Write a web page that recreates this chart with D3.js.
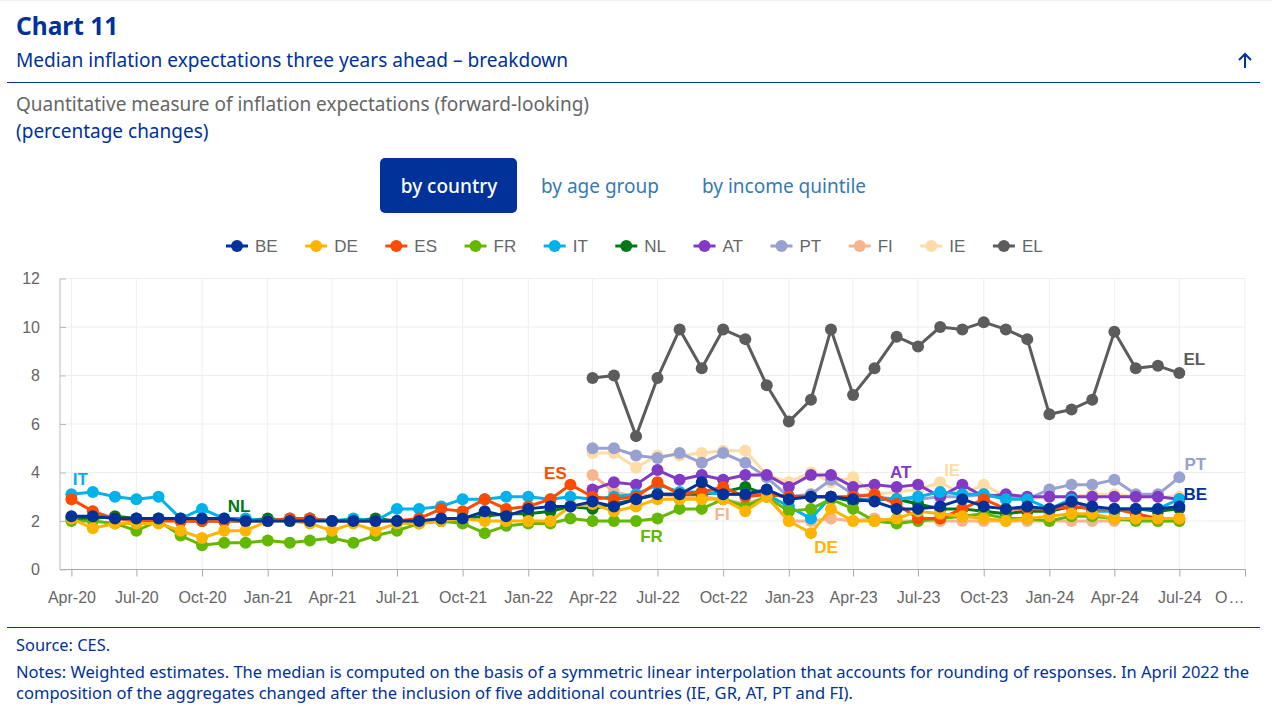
<!DOCTYPE html>
<html>
<head>
<meta charset="utf-8">
<script src="https://cdn.jsdelivr.net/npm/d3@7"></script>
<style>
    html, body { margin: 0; padding: 0; background: #fff; overflow: hidden; }
    .head { font-family: "Noto Sans", sans-serif; }
    .chart text { font-family: "Liberation Sans", Arial, sans-serif; }
</style>
</head>
<body>
<div id="container"></div>
<script>
// monthly survey rounds, Apr-20 to Jul-24
let months = d3.utcMonth.range(new Date(Date.UTC(2020, 3, 1)), new Date(Date.UTC(2024, 7, 1)));

let tickLabels = ["Apr-20", "Jul-20", "Oct-20", "Jan-21", "Apr-21", "Jul-21", "Oct-21", "Jan-22", "Apr-22", "Jul-22",
    "Oct-22", "Jan-23", "Apr-23", "Jul-23", "Oct-23", "Jan-24", "Apr-24", "Jul-24", "O…"];
let yTicks = [0, 2, 4, 6, 8, 10, 12];

let seriesNames = ["BE", "DE", "ES", "FR", "IT", "NL", "AT", "PT", "FI", "IE", "EL"];
let seriesColors = ["#003299", "#ffb400", "#ff4b00", "#65b800", "#00b1ea", "#007816", "#8139c6", "#98a1d0", "#f6b48f", "#fddca5", "#5c5c5c"];

let BE = [2.2, 2.2, 2.1, 2.1, 2.1, 2.1, 2.1, 2.1, 2.0, 2.0, 2.0, 2.0, 2.0, 2.0, 2.0, 2.0, 2.0, 2.1, 2.1, 2.4, 2.2, 2.5, 2.6, 2.6,
    2.8, 2.6, 2.9, 3.1, 3.1, 3.6, 3.1, 3.1, 3.3, 2.9, 3.0, 3.0, 2.9, 2.8, 2.5, 2.5, 2.6, 2.9, 2.6, 2.5, 2.6, 2.5, 2.8, 2.6, 2.5, 2.5, 2.5, 2.6];
let DE = [2.1, 1.7, 1.9, 1.9, 1.9, 1.6, 1.3, 1.6, 1.6, 2.0, 2.0, 1.9, 1.6, 1.9, 1.6, 1.9, 1.9, 2.0, 2.1, 2.0, 2.0, 2.0, 2.0, 2.6,
    2.7, 2.4, 2.6, 2.9, 2.9, 2.9, 2.9, 2.4, 3.0, 2.0, 1.5, 2.5, 2.0, 2.0, 2.1, 2.4, 2.3, 2.2, 2.1, 2.0, 2.1, 2.2, 2.3, 2.3, 2.1, 2.1, 2.1, 2.1];
let ES = [2.9, 2.4, 2.1, 2.0, 2.0, 2.0, 2.0, 2.0, 2.0, 2.0, 2.1, 2.1, 2.0, 2.0, 2.0, 2.0, 2.1, 2.5, 2.4, 2.9, 2.5, 2.6, 2.9, 3.5,
    3.0, 2.9, 3.0, 3.6, 3.1, 3.2, 3.4, 3.0, 3.1, 3.0, 3.0, 3.0, 3.0, 3.1, 2.7, 2.1, 2.1, 2.5, 2.9, 2.5, 2.5, 2.5, 2.6, 2.5, 2.5, 2.3, 2.1, 2.1];
let FR = [2.0, 2.0, 1.9, 1.6, 2.0, 1.4, 1.0, 1.1, 1.1, 1.2, 1.1, 1.2, 1.3, 1.1, 1.4, 1.6, 1.9, 2.0, 1.9, 1.5, 1.8, 1.9, 1.9, 2.1,
    2.0, 2.0, 2.0, 2.1, 2.5, 2.5, 2.9, 2.6, 3.0, 2.4, 2.5, 2.9, 2.5, 2.0, 1.9, 2.0, 2.1, 2.2, 2.3, 2.1, 2.1, 2.0, 2.2, 2.2, 2.1, 2.0, 2.0, 2.0];
let IT = [3.1, 3.2, 3.0, 2.9, 3.0, 2.1, 2.5, 2.1, 2.1, 2.0, 2.1, 2.1, 2.0, 2.1, 2.0, 2.5, 2.5, 2.6, 2.9, 2.9, 3.0, 3.0, 2.9, 3.0,
    2.9, 3.0, 3.1, 3.5, 3.2, 3.2, 3.1, 3.1, 3.1, 2.6, 2.1, 3.0, 2.9, 2.9, 2.9, 3.0, 3.2, 3.1, 3.1, 2.9, 2.9, 2.5, 2.9, 2.4, 2.4, 2.5, 2.5, 2.9];
let NL = [2.1, 2.1, 2.2, 2.1, 2.1, 2.0, 2.0, 2.0, 2.0, 2.1, 2.0, 2.1, 2.0, 2.0, 2.1, 2.0, 2.0, 2.0, 2.1, 2.2, 2.3, 2.3, 2.4, 2.6,
    2.5, 2.7, 2.9, 3.1, 3.1, 3.1, 3.2, 3.4, 3.1, 3.0, 3.0, 3.0, 2.8, 2.9, 2.9, 2.7, 2.5, 2.5, 2.4, 2.3, 2.4, 2.4, 2.6, 2.5, 2.5, 2.5, 2.4, 2.5];
// the five below join the aggregate from Apr-22
let AT = [3.3, 3.6, 3.5, 4.1, 3.7, 3.9, 3.7, 3.9, 3.9, 3.4, 3.9, 3.9, 3.4, 3.5, 3.4, 3.5, 3.0, 3.5, 3.0, 3.1, 3.0, 3.0, 3.0, 3.0, 3.0, 3.0, 3.0, 2.9];
let PT = [5.0, 5.0, 4.7, 4.6, 4.8, 4.4, 4.8, 4.4, 3.8, 3.0, 3.1, 3.7, 3.1, 3.0, 2.9, 2.9, 3.0, 3.0, 3.1, 3.0, 2.9, 3.3, 3.5, 3.5, 3.7, 3.1, 3.1, 3.8];
let FI = [3.9, 3.2, 3.0, 3.1, 3.0, 3.0, 2.9, 2.7, 3.0, 2.0, 2.0, 2.1, 2.0, 2.1, 2.0, 2.0, 2.0, 2.0, 2.0, 2.0, 2.0, 2.0, 2.0, 2.0, 2.0, 2.1, 2.0, 2.0];
let IE = [4.8, 4.8, 4.2, 4.7, 4.7, 4.8, 4.9, 4.9, 3.9, 3.6, 4.0, 3.6, 3.8, 3.1, 3.2, 3.3, 3.6, 3.1, 3.5, 3.0, 2.9, 3.0, 3.0, 3.1, 3.1, 3.0, 3.0, 3.0];
let EL = [7.9, 8.0, 5.5, 7.9, 9.9, 8.3, 9.9, 9.5, 7.6, 6.1, 7.0, 9.9, 7.2, 8.3, 9.6, 9.2, 10.0, 9.9, 10.2, 9.9, 9.5, 6.4, 6.6, 7.0, 9.8, 8.3, 8.4, 8.1];

let seriesValues = [BE, DE, ES, FR, IT, NL, AT, PT, FI, IE, EL];

// which round each in-chart label hangs off, with its pixel nudge
let labelNames = ["IT", "NL", "ES", "FR", "FI", "DE", "AT", "IE", "PT", "BE", "EL"];
let labelRounds = [0, 7, 23, 27, 30, 34, 38, 40, 51, 51, 51];
let labelNudge = [[9, -15], [15, -15], [-15, -12], [-6, 17], [-1, 15], [15, 14], [4, -15], [12, -12], [16, -13], [16, -12], [15, -14]];

let blue = "#003299";
let grey = "#666666";

let svg = d3.select("#container").append("svg")
    .attr("width", 1272)
    .attr("height", 707);

// header ------------------------------------------------------------
let head = svg.append("g").attr("class", "head");

head.append("rect").attr("width", 1272).attr("height", 1).attr("fill", "#f2f2f2");

head.append("text").attr("x", 16).attr("y", 35)
    .attr("font-size", 24.5).attr("font-weight", 700).attr("fill", blue)
    .text("Chart 11");
head.append("text").attr("x", 16).attr("y", 67)
    .attr("font-size", 19.1).attr("fill", blue)
    .text("Median inflation expectations three years ahead – breakdown");
head.append("path")
    .attr("d", "M1245 68V54M1239 60L1245 54L1251 60")
    .attr("fill", "none").attr("stroke", blue).attr("stroke-width", 2);
head.append("line")
    .attr("x1", 7).attr("x2", 1260).attr("y1", 82.5).attr("y2", 82.5)
    .attr("stroke", blue);

head.append("text").attr("x", 16).attr("y", 111)
    .attr("font-size", 19).attr("fill", "#666666")
    .text("Quantitative measure of inflation expectations (forward-looking)");
head.append("text").attr("x", 16).attr("y", 138)
    .attr("font-size", 19).attr("fill", blue)
    .text("(percentage changes)");

head.append("rect")
    .attr("x", 380).attr("y", 158).attr("width", 137).attr("height", 55).attr("rx", 5)
    .attr("fill", blue);
head.append("text").attr("x", 449).attr("y", 193).attr("text-anchor", "middle")
    .attr("font-size", 19).attr("font-weight", 500).attr("fill", "#fff")
    .text("by country");
head.append("text").attr("x", 541).attr("y", 193)
    .attr("font-size", 19).attr("fill", "#337ab7")
    .text("by age group");
head.append("text").attr("x", 702).attr("y", 193)
    .attr("font-size", 19).attr("fill", "#337ab7")
    .text("by income quintile");

// footer
head.append("line")
    .attr("x1", 7).attr("x2", 1260).attr("y1", 627.5).attr("y2", 627.5)
    .attr("stroke", blue);
head.append("text").attr("x", 16).attr("y", 651)
    .attr("font-size", 16.4).attr("fill", blue)
    .text("Source: CES.");
head.append("text").attr("x", 16).attr("y", 678)
    .attr("font-size", 16.55).attr("fill", blue)
    .text("Notes: Weighted estimates. The median is computed on the basis of a symmetric linear interpolation that accounts for rounding of responses. In April 2022 the");
head.append("text").attr("x", 16).attr("y", 699)
    .attr("font-size", 16.55).attr("fill", blue)
    .text("composition of the aggregates changed after the inclusion of five additional countries (IE, GR, AT, PT and FI).");

// chart ------------------------------------------------------------
let chart = svg.append("g").attr("class", "chart");

let tickDates = d3.utcMonth.every(3).range(months[0], new Date(Date.UTC(2024, 10, 1)));

let x = d3.scaleUtc()
    .domain([new Date(Date.UTC(2020, 2, 16)), tickDates[tickDates.length - 1]])
    .range([60, 1245]);
let y = d3.scaleLinear()
    .domain([0, 12])
    .range([569.5, 278.5]);

// gridlines
chart.append("g").selectAll("line").data(yTicks.slice(1)).join("line")
    .attr("x1", 60).attr("x2", 1245.5)
    .attr("y1", d => y(d)).attr("y2", d => y(d))
    .attr("stroke", "#eeeeee");
chart.append("g").selectAll("line").data(tickDates).join("line")
    .attr("x1", d => x(d)).attr("x2", d => x(d))
    .attr("y1", y(12)).attr("y2", y(0))
    .attr("stroke", "#eeeeee");

// axes
let xAxis = chart.append("g")
    .attr("transform", "translate(0," + y(0) + ")")
    .call(d3.axisBottom(x)
        .tickValues(tickDates)
        .tickSize(7)
        .tickPadding(15)
        .tickFormat((d, i) => tickLabels[i]));
xAxis.select(".domain").attr("stroke", "#aaaaaa").attr("d", "M60,0H1245.5");
xAxis.selectAll(".tick line").attr("stroke", "#aaaaaa");
xAxis.selectAll(".tick text").attr("fill", grey).attr("font-size", 16);
// last label is clipped by the plot edge in the original
xAxis.selectAll(".tick text").filter((d, i) => i === tickLabels.length - 1)
    .attr("text-anchor", "end")
    .attr("letter-spacing", 1);

let yAxis = chart.append("g")
    .attr("transform", "translate(60,0)")
    .call(d3.axisLeft(y)
        .tickValues(yTicks)
        .tickSize(-6)
        .tickPadding(20));
yAxis.select(".domain").attr("stroke", "#bbbbbb").attr("d", "M0," + y(12) + "V" + y(0));
yAxis.selectAll(".tick line").attr("stroke", "#bbbbbb");
yAxis.selectAll(".tick text").attr("fill", grey).attr("font-size", 16);

// series, first in the list ends up on top
let line = d3.line()
    .x(d => x(d.date))
    .y(d => y(d.value));

let series = seriesNames.map((name, i) => {
    let values = seriesValues[i];
    let offset = months.length - values.length;
    return {
        name: name,
        color: seriesColors[i],
        points: values.map((v, j) => ({ date: months[j + offset], value: v }))
    };
});

let groups = chart.append("g").selectAll("g").data(series.slice().reverse()).join("g");
groups.append("path")
    .attr("d", d => line(d.points))
    .attr("fill", "none")
    .attr("stroke", d => d.color)
    .attr("stroke-width", 3)
    .attr("stroke-linejoin", "round");
groups.selectAll("circle").data(d => d.points.map(p => ({ p: p, color: d.color }))).join("circle")
    .attr("cx", d => x(d.p.date))
    .attr("cy", d => y(d.p.value))
    .attr("r", 6)
    .attr("fill", d => d.color);

// in-chart labels
labelNames.forEach((name, i) => {
    let s = series.find(e => e.name === name);
    let round = months[labelRounds[i]];
    let pt = s.points.find(p => +p.date === +round);
    chart.append("text")
        .attr("x", x(pt.date) + labelNudge[i][0])
        .attr("y", y(pt.value) + labelNudge[i][1])
        .attr("text-anchor", "middle")
        .attr("dy", "0.35em")
        .attr("font-size", 17)
        .attr("font-weight", 700)
        .attr("fill", s.color)
        .text(name);
});

// legend, flows left to right like the original
let legendX = 226;
series.forEach(s => {
    let item = chart.append("g").attr("transform", "translate(" + legendX + ",246)");
    item.append("line").attr("x1", 0).attr("x2", 22).attr("stroke", s.color).attr("stroke-width", 3);
    item.append("circle").attr("cx", 11).attr("r", 6).attr("fill", s.color);
    let label = item.append("text")
        .attr("x", 29).attr("dy", "0.35em")
        .attr("font-size", 17).attr("fill", grey)
        .text(s.name);
    legendX += 29 + label.node().getComputedTextLength() + 27.5;
});
</script>
</body>
</html>
